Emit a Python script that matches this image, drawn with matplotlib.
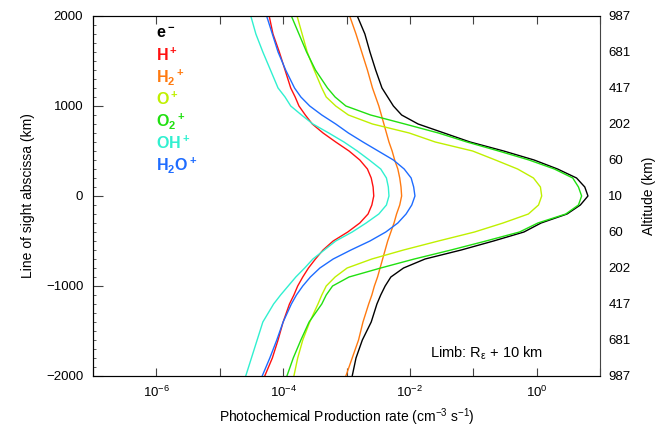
import matplotlib
matplotlib.use("Agg")
import matplotlib.pyplot as plt
import numpy as np

# line of sight abscissa (km)
s_km = [2000, 1800, 1600, 1400, 1200, 1100, 1000, 900, 800, 700, 600, 500, 400, 300,
        200, 100, 0, -100, -200, -300, -400, -500, -600, -700, -800, -900, -1000,
        -1100, -1200, -1400, -1600, -1800, -2000]

# log10 of production rate (cm-3 s-1)
log_e = [-2.83, -2.71, -2.63, -2.54, -2.44, -2.35, -2.26, -2.13, -1.87, -1.46, -1.05,
         -0.52, -0.04, 0.33, 0.63, 0.76, 0.81, 0.69, 0.48, 0.07, -0.20, -0.68, -1.19,
         -1.76, -2.10, -2.30, -2.39, -2.46, -2.52, -2.61, -2.75, -2.85, -2.91]
log_h = [-4.22, -4.16, -4.06, -3.97, -3.88, -3.81, -3.75, -3.65, -3.54, -3.37, -3.17,
         -2.96, -2.79, -2.67, -2.61, -2.58, -2.57, -2.60, -2.66, -2.79, -2.98, -3.21,
         -3.37, -3.49, -3.60, -3.69, -3.77, -3.83, -3.90, -4.00, -4.08, -4.17, -4.29]
log_h2 = [-2.95, -2.85, -2.76, -2.67, -2.59, -2.54, -2.49, -2.45, -2.41, -2.37, -2.33,
          -2.28, -2.24, -2.19, -2.16, -2.14, -2.13, -2.16, -2.21, -2.25, -2.30, -2.35,
          -2.39, -2.43, -2.47, -2.51, -2.56, -2.60, -2.65, -2.74, -2.81, -2.91, -3.01]
log_o = [-3.78, -3.70, -3.62, -3.51, -3.39, -3.32, -3.17, -2.97, -2.59, -2.01, -1.60,
         -1.01, -0.65, -0.30, -0.05, 0.06, 0.08, 0.03, -0.13, -0.53, -0.98, -1.55,
         -2.10, -2.60, -2.99, -3.18, -3.32, -3.39, -3.45, -3.58, -3.69, -3.77, -3.83]
log_o2 = [-3.87, -3.75, -3.63, -3.49, -3.30, -3.18, -3.01, -2.62, -2.08, -1.55, -1.10,
          -0.60, -0.12, 0.28, 0.57, 0.66, 0.71, 0.66, 0.46, 0.02, -0.27, -0.80, -1.35,
          -1.93, -2.46, -2.96, -3.22, -3.32, -3.39, -3.59, -3.72, -3.84, -3.94]
log_oh = [-4.51, -4.43, -4.32, -4.20, -4.08, -3.97, -3.88, -3.71, -3.53, -3.28, -3.04,
          -2.83, -2.64, -2.46, -2.37, -2.34, -2.33, -2.37, -2.49, -2.69, -2.91, -3.17,
          -3.35, -3.53, -3.66, -3.80, -3.92, -4.04, -4.15, -4.32, -4.41, -4.50, -4.59]
log_h2o = [-4.26, -4.17, -4.08, -3.96, -3.82, -3.72, -3.58, -3.39, -3.17, -2.97, -2.74,
           -2.50, -2.26, -2.09, -1.98, -1.94, -1.92, -1.97, -2.06, -2.19, -2.38, -2.63,
           -2.93, -3.21, -3.42, -3.57, -3.69, -3.79, -3.87, -4.00, -4.10, -4.21, -4.33]

species = ["e$^-$", "H$^+$", "H$_2$$^+$", "O$^+$", "O$_2$$^+$", "OH$^+$", "H$_2$O$^+$"]
colors = ["black", "#ff1010", "#ff7a10", "#bff000", "#20e010", "#30f0d0", "#1e6cff"]
series = [log_e, log_h, log_h2, log_o, log_o2, log_oh, log_h2o]

alt_ticks = [-2000, -1600, -1200, -800, -400, 0, 400, 800, 1200, 1600, 2000]
alt_labels = ["987", "681", "417", "202", "60", "10", "60", "202", "417", "681", "987"]

plt.rcParams['font.family'] = ['Liberation Sans', 'DejaVu Sans']
plt.rcParams['mathtext.default'] = 'regular'

fig = plt.figure(figsize=(6.68, 4.32), dpi=100)
ax = fig.add_axes([93/668, 1-376/432, 507/668, 360/432])

for vals, c in zip(series, colors):
    ax.plot(10.0**np.array(vals), s_km, color=c, lw=1.0)

ax.set_xscale('log')
ax.set_xlim(1e-7, 1e1)
ax.set_ylim(-2000, 2000)

xt = 10.0**np.arange(-7, 2)
ax.set_xticks(xt)
ax.set_xticklabels(['$10^{%d}$' % e if e % 2 == 0 and e < 1 else '' for e in range(-7, 2)])
ax.xaxis.set_minor_locator(matplotlib.ticker.NullLocator())
ax.set_yticks([-2000, -1000, 0, 1000, 2000])
ax.yaxis.set_minor_locator(matplotlib.ticker.MultipleLocator(100))

ax.tick_params(which='both', direction='in', top=True, right=True, labelsize=9.5, color='#444444')
ax.tick_params(axis='x', which='major', length=6, pad=6)
ax.tick_params(axis='y', which='major', length=7, pad=7)
ax.tick_params(axis='y', which='minor', length=2.5)
for sp in ax.spines.values():
    sp.set_color('#444444')

ax.set_xlabel("Photochemical Production rate (cm$^{-3}$ s$^{-1}$)", fontsize=10, labelpad=5)
ax.set_ylabel("Line of sight abscissa (km)", fontsize=10, labelpad=8)

ax2 = ax.twinx()
ax2.set_ylim(-2000, 2000)
ax2.set_yticks(alt_ticks)
ax2.set_yticklabels(alt_labels)
ax2.tick_params(axis='y', length=0, pad=6, labelsize=9.5)
ax2.spines['right'].set_visible(False)
ax2.set_ylabel("Altitude (km)", fontsize=10, labelpad=8)

for i, (lab, c) in enumerate(zip(species, colors)):
    fig.text(156/668, 1 - (33 + i*22)/432, lab, color=c, fontsize=11.5,
             fontweight='bold', va='center', ha='left')

fig.text(430/668, 1 - 353/432, "Limb: R$_\\epsilon$ + 10 km", fontsize=10.5,
         va='center', ha='left')

fig.savefig("out.png", dpi=100)
